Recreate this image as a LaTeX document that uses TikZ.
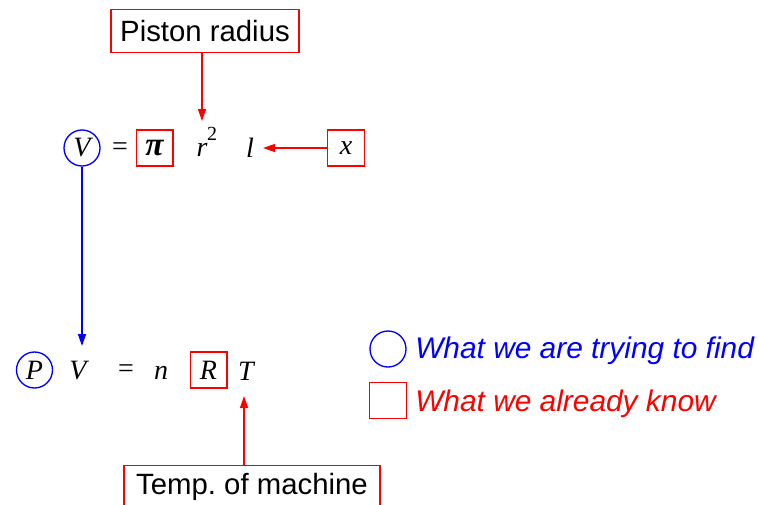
\documentclass[tikz,border=0pt]{standalone}
\usepackage{fontspec}
\setmainfont{Liberation Serif}
\setsansfont{Liberation Sans}
\usetikzlibrary{arrows.meta}
\frenchspacing
\tikzset{
  mathtxt/.style={font=\fontsize{21}{25}\selectfont\itshape, inner sep=0pt},
  known/.style={draw=red, line width=1pt, minimum width=27.5pt, minimum height=27pt, inner sep=0pt, font=\fontsize{21}{25}\selectfont\itshape},
  unknown/.style={circle, draw=blue, line width=1pt, minimum size=27pt, inner sep=0pt, font=\fontsize{21}{25}\selectfont\itshape},
  labelbox/.style={draw=red, line width=1pt, inner sep=0pt, font=\sffamily\fontsize{22}{26}\selectfont},
  legendtxt/.style={font=\sffamily\itshape\fontsize{22.4}{26}\selectfont, inner sep=0pt, anchor=west},
  redarrow/.style={draw=red, line width=1pt, -{Triangle[length=9pt,width=6pt]}},
  bluearrow/.style={draw=blue, line width=1pt, -{Triangle[length=9pt,width=6pt]}}
}
\begin{document}
\begin{tikzpicture}[x=0.75pt, y=-0.75pt]
\path[use as bounding box] (0,0) rectangle (759,504);
\clip (0,0) rectangle (759,504);
% top equation
\node[unknown] (V1) at (82,148) {V};
\node[mathtxt] (eq1) at (120,149) {\upshape =};
\node[known] (pi) at (154.5,148) {\fontsize{25}{28}\selectfont\bfseries π};
\node[mathtxt] (r) at (202,150) {r};
\node[mathtxt, font=\fontsize{15}{17}\selectfont] (sq) at (212,133.5) {2};
\node[mathtxt] (l) at (250,148) {l};
\node[known] (x) at (346,148) {x};
% labels
\node[labelbox, minimum width=141pt, minimum height=32pt] (piston) at (205,31) {Piston radius};
\node[labelbox, minimum width=192pt, minimum height=32pt] (temp) at (252,486.5) {Temp. of machine};
% bottom equation
\node[unknown] (P) at (34.5,370) {P};
\node[mathtxt] (V2) at (78,371) {V};
\node[mathtxt] (eq2) at (126,371) {\upshape =};
\node[mathtxt] (n) at (161,373) {n};
\node[known] (R) at (208.5,370) {R};
\node[mathtxt] (T) at (246,371) {T};
% connectors
\coordinate (pistontip) at (202,121);
\draw[redarrow] (piston.south -| pistontip) -- (pistontip);
\coordinate (ltip) at (263,148);
\draw[redarrow] (x.west) -- (ltip);
\coordinate (Vtip) at (82,346);
\draw[bluearrow] (V1.south) -- (Vtip);
\coordinate (Ttip) at (244,396);
\draw[redarrow] (temp.north -| Ttip) -- (Ttip);
% legend
\node[unknown] (lc) at (388,349) {};
\node[legendtxt, text=blue] (lct) at (415,351) {What we are trying to find};
\node[known] (ls) at (388,400.5) {};
\node[legendtxt, text=red] (lst) at (415,404) {What we already know};
\end{tikzpicture}
\end{document}
